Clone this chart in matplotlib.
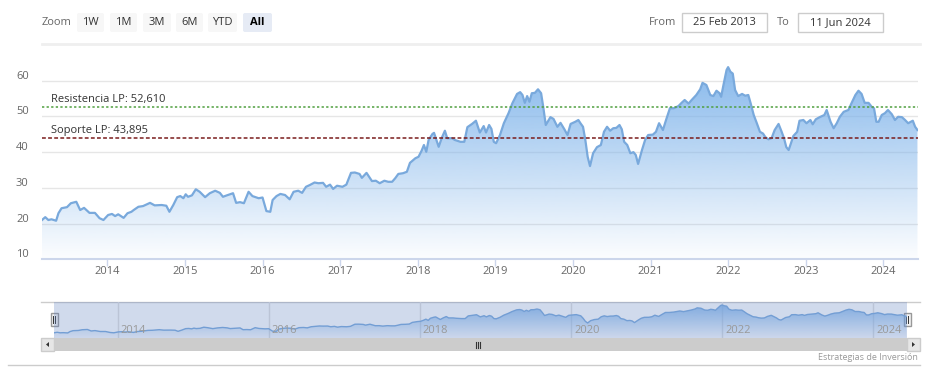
import numpy as np
import matplotlib
matplotlib.use("Agg")
import matplotlib.pyplot as plt
from matplotlib.patches import Rectangle, FancyBboxPatch, Polygon
from matplotlib.transforms import blended_transform_factory, offset_copy

# ---------------- data ----------------
dates = [2013.155, 2013.20, 2013.24, 2013.28, 2013.34, 2013.37, 2013.41, 2013.48, 2013.53, 2013.60,
         2013.65, 2013.70, 2013.77, 2013.84, 2013.90, 2013.95,
         2014.01, 2014.06, 2014.10, 2014.14, 2014.21, 2014.26, 2014.31, 2014.34, 2014.40, 2014.46,
         2014.55, 2014.61, 2014.70, 2014.76, 2014.80, 2014.85, 2014.90, 2014.94, 2014.98,
         2015.01, 2015.04, 2015.09, 2015.14, 2015.19, 2015.26, 2015.32, 2015.39, 2015.45, 2015.49,
         2015.54, 2015.62, 2015.66, 2015.71, 2015.76, 2015.82, 2015.87, 2015.95,
         2016.00, 2016.05, 2016.10, 2016.13, 2016.18, 2016.23, 2016.29, 2016.35, 2016.40, 2016.46,
         2016.51, 2016.56, 2016.61, 2016.67, 2016.72, 2016.78, 2016.82, 2016.87, 2016.91, 2016.96,
         2017.03, 2017.08, 2017.14, 2017.19, 2017.25, 2017.28, 2017.34, 2017.41, 2017.46, 2017.51,
         2017.57, 2017.62, 2017.67, 2017.71, 2017.75, 2017.81, 2017.86, 2017.90, 2017.97,
         2018.01, 2018.05, 2018.08, 2018.11, 2018.14, 2018.19, 2018.21, 2018.27, 2018.31, 2018.35,
         2018.38, 2018.44, 2018.48, 2018.55, 2018.60, 2018.64, 2018.70, 2018.75, 2018.80, 2018.85,
         2018.88, 2018.92, 2018.95, 2018.98,
         2019.01, 2019.06, 2019.11, 2019.17, 2019.22, 2019.28, 2019.32, 2019.35, 2019.38, 2019.41,
         2019.44, 2019.47, 2019.51, 2019.55, 2019.59, 2019.62, 2019.65, 2019.71, 2019.75, 2019.80,
         2019.84, 2019.89, 2019.93, 2019.97,
         2020.03, 2020.07, 2020.10, 2020.13, 2020.16, 2020.19, 2020.22, 2020.26, 2020.31, 2020.36,
         2020.40, 2020.44, 2020.48, 2020.52, 2020.56, 2020.60, 2020.63, 2020.66, 2020.70, 2020.74,
         2020.78, 2020.81, 2020.84, 2020.89, 2020.93, 2020.97,
         2021.03, 2021.07, 2021.11, 2021.16, 2021.20, 2021.25, 2021.30, 2021.36, 2021.40, 2021.44,
         2021.49, 2021.53, 2021.59, 2021.64, 2021.67, 2021.72, 2021.77, 2021.81, 2021.85, 2021.89,
         2021.91, 2021.94, 2021.98,
         2022.00, 2022.03, 2022.06, 2022.09, 2022.13, 2022.18, 2022.22, 2022.26, 2022.29, 2022.33,
         2022.37, 2022.41, 2022.45, 2022.48, 2022.52, 2022.56, 2022.60, 2022.65, 2022.69, 2022.72,
         2022.75, 2022.78, 2022.81, 2022.84, 2022.89, 2022.92, 2022.97,
         2023.01, 2023.06, 2023.09, 2023.13, 2023.18, 2023.24, 2023.27, 2023.32, 2023.36, 2023.40,
         2023.44, 2023.49, 2023.55, 2023.59, 2023.64, 2023.68, 2023.72, 2023.76, 2023.81, 2023.85,
         2023.88, 2023.91, 2023.94, 2023.98,
         2024.02, 2024.06, 2024.11, 2024.15, 2024.19, 2024.24, 2024.28, 2024.32, 2024.38, 2024.41,
         2024.44]

prices = [21.0, 21.8, 21.0, 21.2, 20.8, 22.9, 24.3, 24.6, 25.7, 26.1,
          23.8, 24.4, 23.0, 23.0, 21.5, 21.0,
          22.4, 22.7, 22.1, 22.6, 21.6, 22.9, 23.3, 23.8, 24.7, 24.9,
          25.8, 25.1, 25.2, 25.0, 23.3, 25.2, 27.4, 27.7, 27.1,
          28.2, 27.5, 27.9, 29.6, 28.9, 27.4, 28.5, 29.2, 28.6, 27.5,
          27.9, 28.5, 25.8, 26.0, 25.7, 28.9, 27.7, 27.1,
          27.3, 23.5, 23.3, 26.6, 27.7, 28.3, 28.0, 26.8, 28.9, 29.2,
          28.6, 30.3, 30.8, 31.5, 31.3, 31.4, 30.3, 30.9, 29.7, 30.6,
          30.3, 30.9, 34.2, 34.3, 33.9, 32.8, 34.2, 31.9, 32.0, 31.3,
          32.0, 31.7, 31.7, 32.7, 33.9, 34.1, 34.5, 37.0, 38.3,
          38.7, 40.4, 42.0, 40.1, 43.4, 45.1, 45.4, 41.5, 44.0, 46.0,
          43.9, 43.9, 43.4, 42.9, 42.9, 47.0, 47.9, 48.8, 45.5, 47.3,
          45.5, 47.6, 46.5, 42.9,
          42.5, 44.8, 48.1, 50.9, 53.7, 56.3, 56.8, 56.0, 53.8, 55.7,
          54.1, 56.5, 56.6, 57.6, 56.5, 52.3, 47.6, 49.8, 49.3, 47.1,
          48.2, 46.4, 44.8, 47.9,
          48.5, 49.0, 48.0, 47.1, 43.4, 38.7, 36.1, 39.7, 41.4, 42.0,
          45.7, 47.1, 46.0, 46.7, 46.8, 47.6, 46.4, 42.9, 42.0, 39.7,
          40.0, 39.2, 36.7, 40.6, 43.4, 44.8,
          44.9, 45.7, 48.1, 46.2, 49.0, 52.3, 52.3, 52.9, 53.8, 54.6,
          53.6, 54.6, 56.0, 57.6, 59.4, 58.8, 56.0, 55.7, 57.2, 56.5,
          55.5, 58.8, 63.0,
          63.8, 62.5, 62.0, 57.4, 55.7, 56.3, 55.8, 56.0, 53.7, 50.4,
          48.1, 45.7, 45.2, 44.2, 43.6, 43.9, 46.2, 47.9, 45.7, 43.9,
          41.4, 40.6, 42.5, 44.5, 45.7, 48.8, 49.0,
          48.1, 49.0, 47.8, 49.2, 49.8, 50.4, 51.8, 48.5, 46.7, 48.1,
          49.9, 51.3, 51.8, 53.7, 56.0, 57.2, 56.3, 53.8, 53.8, 52.7,
          52.3, 48.5, 48.5, 50.4,
          50.9, 51.8, 50.6, 49.0, 49.9, 49.8, 49.0, 48.1, 48.8, 47.1,
          46.2]

resistance_value = 52.610
support_value = 43.895
resistance_label = "Resistencia LP: 52,610"
support_label = "Soporte LP: 43,895"
y_ticks = [10, 20, 30, 40, 50, 60]
x_ticks = [2014, 2015, 2016, 2017, 2018, 2019, 2020, 2021, 2022, 2023, 2024]
nav_ticks = [2014, 2016, 2018, 2020, 2022, 2024]
range_buttons = ["1W", "1M", "3M", "6M", "YTD", "All"]
from_date = "25 Feb 2013"
to_date = "11 Jun 2024"
credit_text = "Estrategias de Inversión"

# ---------------- layout ----------------
W, H, DPI = 939, 377, 100
plt.rcParams['font.family'] = ['Open Sans', 'DejaVu Sans']
FS = 8.0

fig = plt.figure(figsize=(W / DPI, H / DPI), dpi=DPI)
fig.patch.set_facecolor('white')

# overlay in pixel coords
ov = fig.add_axes([0, 0, 1, 1], zorder=0)
ov.set_xlim(0, W)
ov.set_ylim(H, 0)
ov.axis('off')

# main plot
PL, PR, PT, PB = 42, 918, 60, 259.3
ax = fig.add_axes([PL / W, 1 - PB / H, (PR - PL) / W, (PB - PT) / H], zorder=2)
ax.patch.set_alpha(0)
x0, x1 = 2013.158, 2024.447
ylo, yhi = 10, 65.8
ax.set_xlim(x0, x1)
ax.set_ylim(ylo, yhi)

x = np.array(dates)
y = np.array(prices)
x = np.clip(x, x0, x1)

def gradient_fill(a, xs, ys, base, top, rgb, a_top, a_bot, lw, lc):
    poly = a.fill_between(xs, ys, base, facecolor='none', edgecolor='none')
    n = 256
    alphas = np.linspace(a_bot, a_top, n)
    img = np.zeros((n, 1, 4))
    img[:, 0, 0] = rgb[0]
    img[:, 0, 1] = rgb[1]
    img[:, 0, 2] = rgb[2]
    img[:, 0, 3] = alphas
    im = a.imshow(img, extent=(a.get_xlim()[0], a.get_xlim()[1], base, top),
                  origin='lower', aspect='auto', zorder=1, interpolation='bilinear')
    im.set_clip_path(poly.get_paths()[0], transform=a.transData)
    a.plot(xs, ys, color=lc, lw=lw, zorder=3, solid_joinstyle='round')

gradient_fill(ax, x, y, ylo, yhi, (124 / 255, 178 / 255, 234 / 255), 0.95, 0.02, 1.6, '#79a9dc')

# grid
for v in y_ticks:
    ax.axhline(v, color='#e6e6e6', lw=1, zorder=0.5)
ax.set_yticks([])
for s in ['top', 'right', 'left']:
    ax.spines[s].set_visible(False)
ax.spines['bottom'].set_color('#ccd6eb')
ax.spines['bottom'].set_linewidth(1.5)
ax.spines['bottom'].set_zorder(4)
ax.set_xticks(x_ticks)
ax.set_xticklabels([])
ax.tick_params(axis='x', length=5, width=1, color='#ccd6eb', direction='out')

# y labels
tr_y = blended_transform_factory(fig.transFigure, ax.transData)
for v in y_ticks:
    ax.text(16 / W, v, str(v), transform=offset_copy(tr_y, fig=fig, y=4.5, units='dots'),
            ha='left', va='center', fontsize=FS, color='#666666')
# x labels
tr_x = blended_transform_factory(ax.transData, ax.transAxes)
lab_y = (PB - 271) / (PB - PT)
for v in x_ticks:
    ax.text(v, lab_y, str(v), transform=tr_x, ha='center', va='center', fontsize=FS,
            color='#666666', clip_on=False)

# plot lines
ax.axhline(resistance_value, color='#4f9f3f', lw=1.1, ls=(0, (1.5, 1.5)), zorder=5)
ax.axhline(support_value, color='#7a1c1c', lw=1.1, ls=(0, (2.5, 1.5)), zorder=5)
tr_l = blended_transform_factory(ax.transAxes, ax.transData)
lx = (51 - PL) / (PR - PL)
ax.text(lx, resistance_value, resistance_label, transform=offset_copy(tr_l, fig=fig, y=7.5, units='dots'),
        ha='left', va='center', fontsize=FS, color='#333333', zorder=6)
ax.text(lx, support_value, support_label, transform=offset_copy(tr_l, fig=fig, y=7.5, units='dots'),
        ha='left', va='center', fontsize=FS, color='#333333', zorder=6)

# ---------------- top toolbar ----------------
ov.plot([42, 920], [43.5, 43.5], color='#efefef', lw=2)
ov.text(42, 22.5, "Zoom", ha='left', va='center', fontsize=FS, color='#666666')
btn_x = [77, 110, 143, 176, 208, 243]
btn_w = [27, 27, 28, 27, 29, 29]
for lbl, bx, bw in zip(range_buttons, btn_x, btn_w):
    sel = (lbl == "All")
    ov.add_patch(FancyBboxPatch((bx, 13), bw, 19, boxstyle="round,pad=0,rounding_size=2",
                                facecolor='#e6ebf5' if sel else '#f7f7f7', edgecolor='none'))
    ov.text(bx + bw / 2, 22.5, lbl, ha='center', va='center', fontsize=FS,
            color='#000000' if sel else '#333333', fontweight='bold' if sel else 'normal')

ov.text(649, 22.5, "From", ha='left', va='center', fontsize=FS, color='#666666')
ov.add_patch(Rectangle((682, 12.5), 85, 19.5, facecolor='white', edgecolor='#cccccc', lw=1))
ov.text(724.5, 22.5, from_date, ha='center', va='center', fontsize=FS, color='#333333')
ov.text(777, 22.5, "To", ha='left', va='center', fontsize=FS, color='#666666')
ov.add_patch(Rectangle((798, 12.5), 85, 19.5, facecolor='white', edgecolor='#cccccc', lw=1))
ov.text(840.5, 22.5, to_date, ha='center', va='center', fontsize=FS, color='#333333')

# ---------------- navigator ----------------
NL, NR, NT, NB = 54, 907, 302, 338
nav = fig.add_axes([NL / W, 1 - NB / H, (NR - NL) / W, (NB - NT) / H], zorder=2)
nav.patch.set_alpha(0)
nav.set_xlim(x0, x1)
nav.set_ylim(13, 68.4)
nav.axis('off')
for v in nav_ticks:
    nav.axvline(v, color='#e0e0e0', lw=1, zorder=0.5)
gradient_fill(nav, x, y, 13, 68.4, (124 / 255, 178 / 255, 234 / 255), 0.95, 0.05, 1.0, '#79a9dc')
nav.add_patch(Rectangle((0, 0), 1, 1, transform=nav.transAxes,
                        facecolor=(102 / 255, 133 / 255, 194 / 255, 0.3), edgecolor='none', zorder=4))
tr_n = blended_transform_factory(nav.transData, nav.transAxes)
for v in nav_ticks:
    nav.text(v, (NB - 330.5) / (NB - NT), str(v), transform=offset_copy(tr_n, fig=fig, x=3, units='dots'),
             ha='left', va='center', fontsize=FS, color='#999999', zorder=5)

ov.plot([41, 920], [302, 302], color='#cccccc', lw=1)

# scrollbar
ov.add_patch(Rectangle((41, 338), 879, 13, facecolor='#f2f2f2', edgecolor='none'))
ov.add_patch(Rectangle((54, 338), 853, 13, facecolor='#cccccc', edgecolor='none'))
ov.add_patch(Rectangle((41, 338), 13, 13, facecolor='#e6e6e6', edgecolor='#cccccc', lw=1))
ov.add_patch(Rectangle((907, 338), 13, 13, facecolor='#e6e6e6', edgecolor='#cccccc', lw=1))
ov.add_patch(Polygon([[49, 342], [49, 347], [46, 344.5]], closed=True, facecolor='#333333', edgecolor='none'))
ov.add_patch(Polygon([[912, 342], [912, 347], [915, 344.5]], closed=True, facecolor='#333333', edgecolor='none'))
for dx in [-2, 0, 2]:
    ov.plot([478 + dx, 478 + dx], [341.5, 347.5], color='#333333', lw=0.8)

# handles
for hx in [54, 907]:
    ov.add_patch(Rectangle((hx - 3.5, 313), 7, 13, facecolor='#f2f2f2', edgecolor='#999999', lw=1, zorder=5))
    for dx in [-1, 1]:
        ov.plot([hx + dx, hx + dx], [316, 323], color='#333333', lw=0.7, zorder=6)

# bottom line + credit
ov.plot([8, 920], [364.5, 364.5], color='#cccccc', lw=1)
ov.text(918, 357, credit_text, ha='right', va='center', fontsize=6.5, color='#999999')

fig.savefig('out.png', dpi=DPI, facecolor='white')
